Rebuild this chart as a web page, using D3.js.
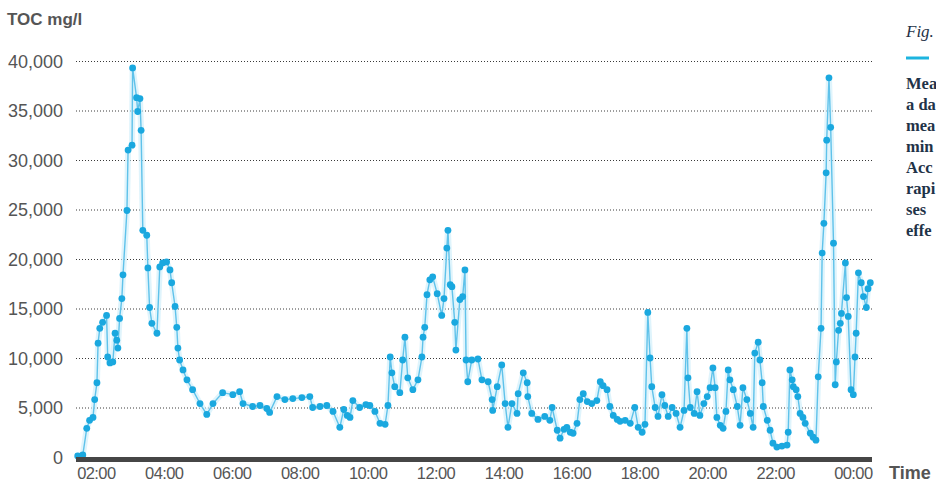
<!DOCTYPE html>
<html>
<head>
<meta charset="utf-8">
<script src="https://cdn.jsdelivr.net/npm/d3@7"></script>
<style>
  html, body { margin: 0; padding: 0; background: #fff; overflow: hidden; }
  svg { display: block; }
</style>
</head>
<body>
<svg id="chart"></svg>
<script>
"use strict";

var width  = 936,
    height = 490;

// measurement times (clock time, runs past midnight) and TOC values in mg/l
var times = [
  "01:28","01:37","01:44","01:49","01:55","01:58","02:02","02:04","02:07","02:12",
  "02:19","02:21","02:25","02:30","02:34","02:37","02:39","02:42","02:46","02:48",
  "02:55","02:57","03:04","03:05","03:12","03:14","03:18","03:20","03:23","03:30",
  "03:32","03:35","03:39","03:48","03:53","03:58","04:05","04:11","04:14","04:20",
  "04:23","04:25","04:28","04:34","04:41","04:51","05:04","05:16","05:27","05:44",
  "06:02","06:14","06:20","06:37","06:50","07:02","07:07","07:20","07:34","07:48",
  "08:04","08:18","08:23","08:36","08:48","08:59","09:11","09:18","09:24","09:29",
  "09:34","09:46","09:57","10:04","10:13","10:22","10:31","10:36","10:40","10:43",
  "10:48","10:57","11:02","11:06","11:11","11:20","11:29","11:36","11:38","11:41",
  "11:45","11:50","11:55","12:03","12:11","12:15","12:20","12:22","12:26","12:29",
  "12:34","12:36","12:43","12:48","12:52","12:54","12:57","13:04","13:15","13:22",
  "13:33","13:40","13:41","13:49","13:57","14:03","14:08","14:15","14:24","14:26",
  "14:35","14:42","14:43","14:50","15:01","15:13","15:22","15:26","15:35","15:40",
  "15:47","15:52","15:58","16:03","16:10","16:15","16:21","16:28","16:36","16:45",
  "16:51","16:56","17:03","17:08","17:14","17:21","17:26","17:35","17:44","17:52",
  "17:58","18:05","18:10","18:15","18:19","18:22","18:28","18:33","18:40","18:45",
  "18:51","18:58","19:05","19:12","19:19","19:24","19:26","19:30","19:37","19:42",
  "19:47","19:54","20:00","20:05","20:10","20:14","20:17","20:23","20:28","20:33",
  "20:37","20:40","20:46","20:53","20:58","21:03","21:10","21:16","21:21","21:24",
  "21:30","21:33","21:37","21:39","21:46","21:51","21:56","22:03","22:12","22:21",
  "22:23","22:26","22:30","22:32","22:37","22:40","22:44","22:49","22:53","23:02",
  "23:07","23:12","23:16","23:21","23:23","23:26","23:30","23:31","23:35","23:38",
  "23:43","23:46","23:48","23:52","23:55","23:57","00:04","00:06","00:09","00:14",
  "00:18","00:21","00:23","00:27","00:32","00:36","00:41","00:44","00:48"
];

var toc = [
  100,200,2900,3700,4000,5800,7500,11500,13000,13600,
  14300,10100,9500,9600,12500,11800,11000,14000,16000,18400,
  24900,31000,31500,39300,36300,34900,36200,33000,22900,22400,
  19100,15100,13500,12500,19200,19600,19700,18900,17600,15200,
  13100,11000,9800,8800,7800,6800,5400,4300,5400,6500,
  6300,6600,5400,5100,5200,4900,4500,6100,5800,5900,
  6000,6100,5000,5100,5200,4600,3000,4800,4200,4000,
  5700,5000,5300,5200,4600,3400,3300,5200,10100,8500,
  7100,6500,9800,12100,8000,6800,7800,10100,12100,13100,
  16400,17900,18200,16500,14300,16000,21100,22900,17400,17200,
  13600,10800,15900,16200,18900,9800,7600,9800,9900,7800,
  7600,5800,4700,7100,9300,5400,3000,5400,4400,6400,
  8500,7500,6100,4400,3800,4100,3700,5000,2700,1900,
  2800,3000,2500,2400,3400,5800,6400,5600,5400,5700,
  7600,7200,6800,5100,4200,3800,3600,3700,3400,5000,
  3000,2500,3300,14600,10000,7100,5000,4100,6300,5200,
  4100,5000,4400,3000,4700,13000,8000,5000,4400,6600,
  4200,5400,6100,7000,9000,7000,4000,3200,2900,4600,
  8800,7800,6800,5100,3200,7000,5800,4400,3000,10500,
  11600,9800,7500,5100,3700,2700,1400,1000,1100,1200,
  2500,8800,7800,7100,6800,6100,4400,4000,3400,2400,
  2000,1700,8100,13000,20600,23600,28700,32000,38300,33300,
  21600,7300,9600,12800,13500,14500,19600,16100,14200,6800,
  6300,10100,12500,18600,17600,16200,15100,17000,17600
];

var yTicks = [0, 5000, 10000, 15000, 20000, 25000, 30000, 35000, 40000];
var timeDomain = ["01:25", "00:51"];

var yTitle = "TOC mg/l",
    xTitle = "Time";

// caption at the right edge, only the part that shows on the page
var figLabel = "Fig.";
var captionLines = ["Mea", "a da", "mea", "min", "Acc", "rapi", "ses", "effe"];

// Build dates, rolling over to the next day after midnight
var parseTime = d3.timeParse("%Y-%m-%d %H:%M");
function toDates(list) {
  var day = 1, prev = -1;
  return list.map(function(t) {
    var mins = +t.slice(0, 2) * 60 + +t.slice(3, 5);
    if (mins < prev) day += 1;
    prev = mins;
    return parseTime("2020-01-0" + day + " " + t);
  });
}

var dates = toDates(times);
var data = dates.map(function(d, i) { return {t: d, v: toc[i]}; });
var domainDates = toDates(timeDomain);

var margin = {left: 76, right: 64, top: 61, bottom: 33};

var x = d3.scaleTime()
          .domain(domainDates)
          .range([margin.left, width - margin.right]);

var y = d3.scaleLinear()
          .domain([0, 40000])
          .range([height - margin.bottom, margin.top]);

var svg = d3.select("#chart")
            .attr("width", width)
            .attr("height", height)
            .attr("viewBox", "0 0 " + width + " " + height)
            .style("font-family", "'Liberation Sans', Arial, sans-serif");

// gridlines
svg.append("g")
   .attr("class", "grid")
   .selectAll("line")
   .data(yTicks.filter(function(d) { return d > 0; }))
   .enter().append("line")
     .attr("x1", x.range()[0])
     .attr("x2", x.range()[1])
     .attr("y1", function(d) { return y(d) + 0.5; })
     .attr("y2", function(d) { return y(d) + 0.5; })
     .attr("stroke", "#3a3a3a")
     .attr("stroke-width", 1)
     .attr("stroke-dasharray", "1,2");

// y axis labels
var yAxis = d3.axisLeft(y)
              .tickValues(yTicks)
              .tickSize(0)
              .tickPadding(0)
              .tickFormat(d3.format(","));

svg.append("g")
   .attr("transform", "translate(63, 0)")
   .call(yAxis)
   .call(function(g) { g.select(".domain").remove(); })
   .selectAll("text")
     .attr("fill", "#555")
     .attr("font-size", "18px")
     .attr("font-family", "'Liberation Sans', Arial, sans-serif")
     .attr("dy", "0.36em");

// x axis labels
var xAxis = d3.axisBottom(x)
              .ticks(d3.timeHour.every(2))
              .tickSize(0)
              .tickPadding(0)
              .tickFormat(d3.timeFormat("%H:%M"));

var xg = svg.append("g")
            .attr("transform", "translate(0, " + (height - margin.bottom) + ")")
            .call(xAxis);
xg.select(".domain").remove();
var xLabels = xg.selectAll("text")
     .attr("fill", "#555")
     .attr("font-size", "16.5px")
     .attr("letter-spacing", "-0.6px")
     .attr("font-family", "'Liberation Sans', Arial, sans-serif")
     .attr("y", 22)
     .attr("dy", 0);
// last label sits flush with the end of the axis
xLabels.filter(function(d, i, n) { return i === n.length - 1; })
       .attr("text-anchor", "end")
       .attr("x", x.range()[1] - x(xg.selectAll(".tick").data().slice(-1)[0]));

// the line with its soft halo
var line = d3.line()
             .x(function(d) { return x(d.t); })
             .y(function(d) { return y(d.v); });

svg.append("path")
   .datum(data)
   .attr("d", line)
   .attr("fill", "none")
   .attr("stroke", "#c9ecfa")
   .attr("stroke-width", 6)
   .attr("stroke-linejoin", "round")
   .attr("opacity", 0.6);

svg.append("path")
   .datum(data)
   .attr("d", line)
   .attr("fill", "none")
   .attr("stroke", "#5fc2ea")
   .attr("stroke-width", 1.4)
   .attr("stroke-linejoin", "round");

svg.append("g")
   .selectAll("circle")
   .data(data)
   .enter().append("circle")
     .attr("cx", function(d) { return x(d.t); })
     .attr("cy", function(d) { return y(d.v); })
     .attr("r", 3.4)
     .attr("fill", "#1aa8df");

// thick baseline
svg.append("rect")
   .attr("x", x.range()[0])
   .attr("y", y(0))
   .attr("width", x.range()[1] - x.range()[0])
   .attr("height", 5)
   .attr("fill", "#464646");

// titles
svg.append("text")
   .attr("x", 7)
   .attr("y", 25)
   .attr("fill", "#555")
   .attr("font-size", "17px")
   .attr("font-weight", "bold")
   .text(yTitle);

svg.append("text")
   .attr("x", 889)
   .attr("y", 479)
   .attr("fill", "#555")
   .attr("font-size", "18px")
   .attr("font-weight", "bold")
   .text(xTitle);

// caption block at right edge
var cap = svg.append("g")
             .attr("font-family", "'Liberation Serif', 'DejaVu Serif', serif")
             .attr("fill", "#1f3348");

cap.append("text")
   .attr("x", 906)
   .attr("y", 37)
   .attr("font-size", "17px")
   .attr("font-style", "italic")
   .text(figLabel);

cap.append("line")
   .attr("x1", 906)
   .attr("x2", 929)
   .attr("y1", 58)
   .attr("y2", 58)
   .attr("stroke", "#1db4df")
   .attr("stroke-width", 3);

cap.selectAll(".cl")
   .data(captionLines)
   .enter().append("text")
     .attr("class", "cl")
     .attr("x", 906)
     .attr("y", function(d, i) { return 89 + i * 21; })
     .attr("font-size", "16.5px")
     .attr("font-weight", "bold")
     .text(function(d) { return d; });
</script>
</body>
</html>
